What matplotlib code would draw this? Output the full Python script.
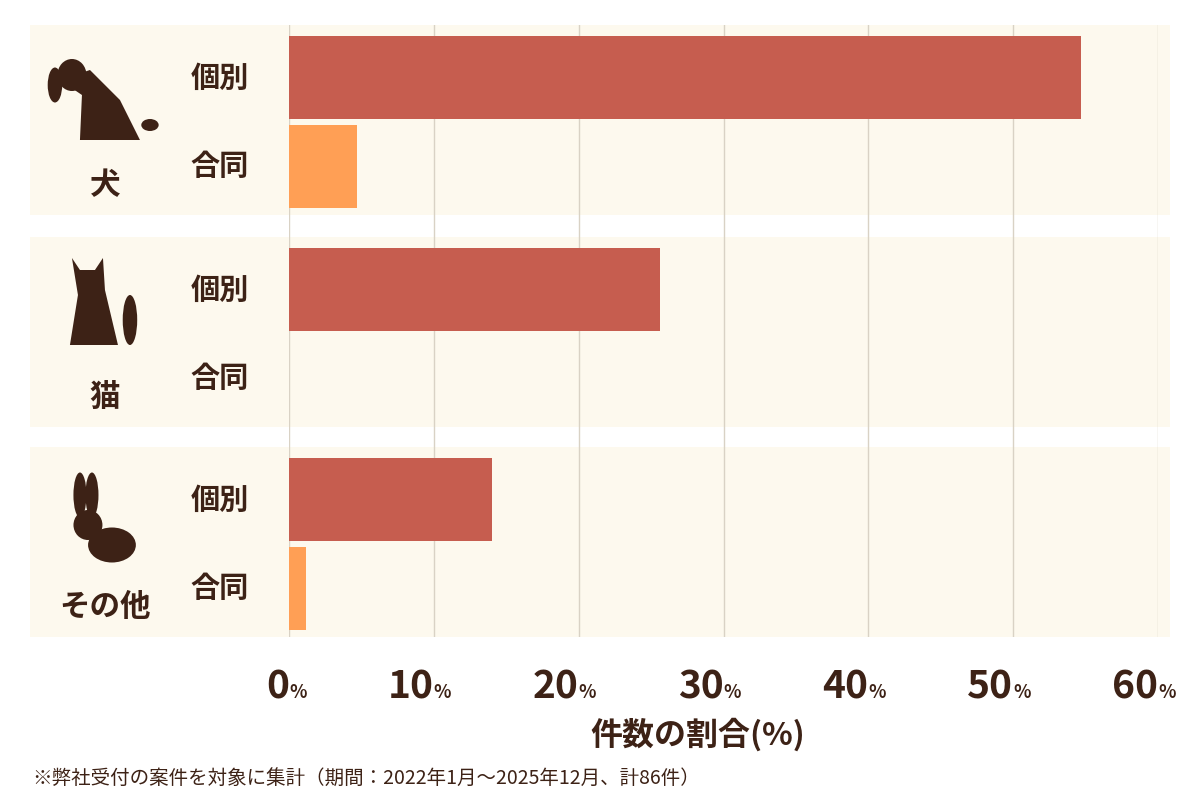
import matplotlib.pyplot as plt
from matplotlib.patches import Rectangle, Ellipse, Polygon

plt.rcParams['font.family'] = ['Noto Sans CJK JP', 'DejaVu Sans']

# data
animals = ['犬', '猫', 'その他']
kinds = ['個別', '合同']
individual = [54.7, 25.6, 14.0]
joint = [4.7, 0.0, 1.2]
ticks = [0, 10, 20, 30, 40, 50, 60]
xlabel = '件数の割合(%)'
note = '※弊社受付の案件を対象に集計（期間：2022年1月～2025年12月、計86件）'

dark = '#3D2216'
red = '#C65D4F'
orange = '#FF9F55'
cream = '#FDF9EE'

fig = plt.figure(figsize=(12, 8), dpi=100)
ax = fig.add_axes([289/1200, 163/800, 869/1200, 612/800])
ax.set_xlim(0, 60)
ax.set_ylim(637, 25)

panel_top = [25, 237, 447]
ppx = 14.48  # px per percent
for i, top in enumerate(panel_top):
    ax.add_patch(Rectangle(((30-289)/ppx, top), (1170-30)/ppx, 190, facecolor=cream,
                           edgecolor='none', clip_on=False, zorder=0))
    c1 = top + 52.5
    c2 = top + 141
    ax.barh(c1, individual[i], height=83, color=red, zorder=3)
    if joint[i] > 0:
        ax.barh(c2, joint[i], height=83, color=orange, zorder=3)
    for c, k in zip([c1, c2], kinds):
        ax.text(-2.8, c, k, ha='right', va='center', fontsize=21, fontweight='bold', color=dark)
    ax.text((105-289)/ppx, top + 160, animals[i], ha='center', va='center',
            fontsize=22, fontweight='bold', color=dark, clip_on=False)

for t in ticks:
    ax.axvline(t, color='#D9D2C5', lw=1, zorder=1)
    ax.text(t, 687, str(t), ha='right', va='center', fontsize=28, fontweight='bold', color=dark)
    ax.text(t, 692, '%', ha='left', va='center', fontsize=13, fontweight='bold', color=dark)

# crude silhouettes
def sil(patches):
    for p in patches:
        p.set_facecolor(dark); p.set_edgecolor('none'); p.set_clip_on(False); p.set_zorder(4)
        ax.add_patch(p)

X = lambda px: (px-289)/ppx
sil([Ellipse((X(72), 75), 2.0, 32), Polygon([(X(60), 80), (X(90), 70), (X(120), 100), (X(140), 140),
                                                (X(80), 140), (X(82), 95)]),
     Ellipse((X(55), 85), 1.0, 35), Ellipse((X(150), 125), 1.2, 12)])
sil([Polygon([(X(72), 258), (X(80), 270), (X(95), 270), (X(103), 258), (X(105), 290), (X(118), 345),
              (X(70), 345), (X(78), 295)]),
     Ellipse((X(130), 320), 1.0, 50)])
sil([Ellipse((X(80), 495), 0.9, 45), Ellipse((X(92), 495), 0.9, 45),
     Ellipse((X(88), 525), 2.0, 30), Ellipse((X(112), 545), 3.3, 35)])

ax.set_xticks([]); ax.set_yticks([])
for s in ax.spines.values():
    s.set_visible(False)

fig.text(698/1200, 1-735/800, xlabel, ha='center', va='center', fontsize=23, fontweight='bold', color=dark)
fig.text(32/1200, 1-778/800, note, ha='left', va='center', fontsize=14, color=dark)

fig.savefig('out.png', facecolor='white')
